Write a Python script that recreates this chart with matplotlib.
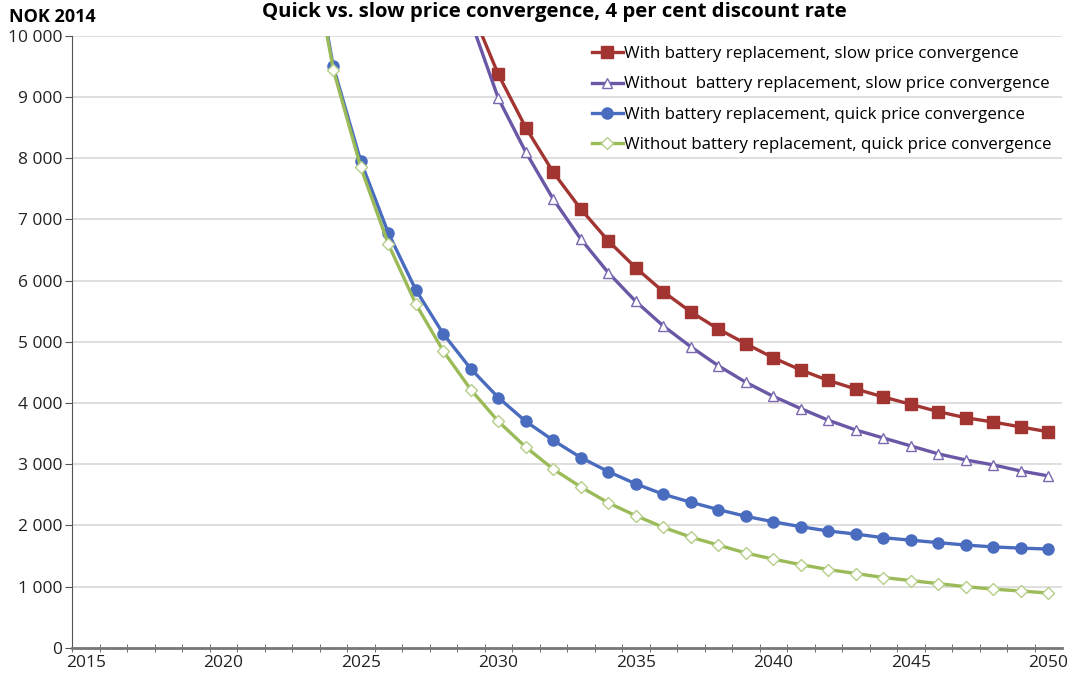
import matplotlib.pyplot as plt
from matplotlib.ticker import FuncFormatter

# Data (NOK 2014); first point of each series lies above the 10 000 cut-off
years_quick = list(range(2023, 2051))
with_quick = [12000, 9500, 7950, 6780, 5850, 5130, 4560, 4090, 3700, 3390, 3110, 2880, 2680,
              2510, 2380, 2260, 2150, 2060, 1980, 1910, 1860, 1800, 1760, 1720, 1680,
              1650, 1630, 1615]
without_quick = [11900, 9450, 7850, 6600, 5620, 4850, 4220, 3700, 3280, 2920, 2630, 2370,
                 2160, 1970, 1810, 1680, 1550, 1450, 1360, 1280, 1215, 1150, 1100, 1050,
                 1000, 960, 930, 895]

years_slow = list(range(2029, 2051))
with_slow = [10450, 9370, 8500, 7770, 7170, 6650, 6210, 5820, 5490, 5210, 4970, 4740, 4540,
             4370, 4230, 4100, 3980, 3860, 3760, 3690, 3610, 3530]
without_slow = [10250, 8980, 8100, 7330, 6680, 6130, 5660, 5260, 4920, 4610, 4340, 4110,
                3910, 3720, 3560, 3430, 3300, 3170, 3070, 2990, 2890, 2810]

labels = ['With battery replacement, slow price convergence',
          'Without  battery replacement, slow price convergence',
          'With battery replacement, quick price convergence',
          'Without battery replacement, quick price convergence']

plt.rcParams['font.family'] = ['Open Sans', 'DejaVu Sans']

fig = plt.figure(figsize=(10.75, 6.77), dpi=100)
ax = fig.add_axes([0.067, 0.043, 0.921, 0.904])

ax.plot(years_slow, with_slow, color='#A23431', lw=2.4, marker='s', ms=8,
        mfc='#A23431', mec='#A23431', label=labels[0])
ax.plot(years_slow, without_slow, color='#6A58A6', lw=2.4, marker='^', ms=7,
        mfc='white', mec='#7B68B0', mew=1, label=labels[1])
ax.plot(years_quick, with_quick, color='#4A6CBF', lw=2.4, marker='o', ms=8,
        mfc='#4A6CBF', mec='#4A6CBF', label=labels[2])
ax.plot(years_quick, without_quick, color='#9BBB59', lw=2.4, marker='D', ms=6,
        mfc='white', mec='#B5CE8A', mew=1, label=labels[3])

ax.set_xlim(2014.5, 2050.5)
ax.set_ylim(0, 10000)

ax.set_xticks(range(2015, 2051, 5))
ax.set_xticks([y + 0.5 for y in range(2014, 2050)], minor=True)
ax.tick_params(axis='x', which='major', length=0, labelsize=12.5, pad=5, colors='#222222')
ax.tick_params(axis='x', which='minor', length=6, direction='inout', color='#555555')
ax.set_yticks(range(0, 10001, 1000))
ax.yaxis.set_major_formatter(FuncFormatter(lambda v, p: f'{int(v):,}'.replace(',', ' ')))
ax.tick_params(axis='y', length=5, labelsize=12.5, direction='out', pad=2,
               colors='#555555', labelcolor='#222222')

ax.grid(axis='y', color='#D9D9D9', lw=1.2)
ax.set_axisbelow(True)
for s in ['top', 'right']:
    ax.spines[s].set_visible(False)
ax.spines['left'].set_color('#555555')
ax.spines['bottom'].set_color('#777777')
ax.spines['bottom'].set_linewidth(2)

leg = ax.legend(loc='upper right', bbox_to_anchor=(1.0, 1.0), frameon=False,
                fontsize=12.2, handlelength=1.8, handletextpad=0.1, labelspacing=0.85,
                borderaxespad=0.2)

fig.text(0.008, 0.975, 'NOK 2014', fontsize=13, fontweight='bold', va='center', ha='left')
fig.text(0.516, 0.982, 'Quick vs. slow price convergence, 4 per cent discount rate',
         fontsize=14.7, fontweight='bold', va='center', ha='center')

fig.savefig('out.png', dpi=100)
